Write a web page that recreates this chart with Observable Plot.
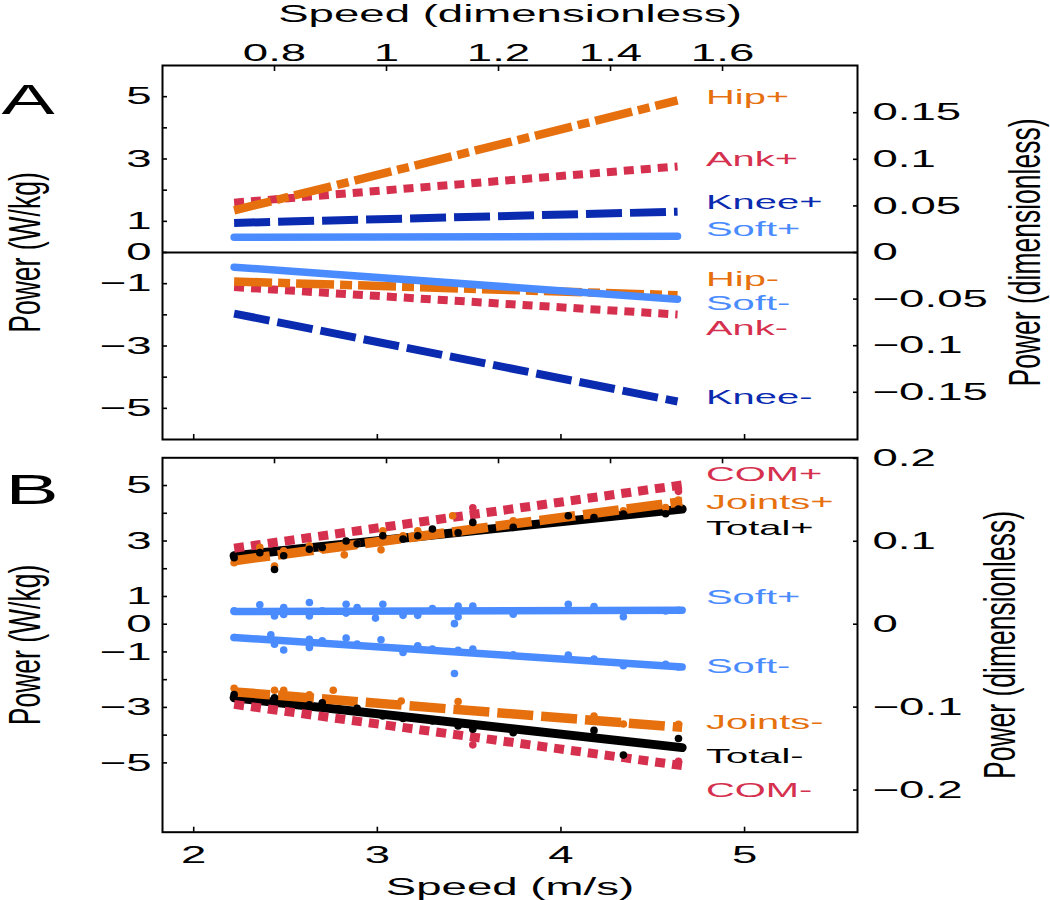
<!DOCTYPE html>
<html>
<head>
<meta charset="utf-8">
<script src="https://cdn.jsdelivr.net/npm/d3@7"></script>
<script src="https://cdn.jsdelivr.net/npm/@observablehq/plot@0.6"></script>
<style>
  html, body { margin: 0; padding: 0; background: #fff; }
  #chart { width: 1050px; }
  #chart svg { display: block; }
</style>
</head>
<body>
<div id="chart"></div>
<script>
// ---------- scales / ticks ----------
const speedScale = 3.05;   // m/s per unit of dimensionless speed
const powerScale = 29.9;   // W/kg per unit of dimensionless power
const xDomain = [1.83, 5.615];
const speedTicks = [2, 3, 4, 5];
const dimSpeedTicks = [0.8, 1, 1.2, 1.4, 1.6];
const powerTicks = [-5, -4, -3, -2, -1, 0, 1, 2, 3, 4, 5];
const powerTickLabels = [-5, -3, -1, 0, 1, 3, 5];
const dimPowerTicksA = [-0.15, -0.1, -0.05, 0, 0.05, 0.1, 0.15];
const dimPowerTicksB = [-0.2, -0.1, 0, 0.1, 0.2];

// ---------- panel A: fitted lines ----------
const fitSpeedsA = [2.22, 4.635];
const seriesA = ["Ank+", "Hip+", "Knee+", "Soft+", "Ank-", "Hip-", "Knee-", "Soft-"];
const startA = [1.6, 1.35, 0.95, 0.49, -1.11, -0.93, -1.96, -0.47];
const endA = [2.76, 4.88, 1.31, 0.52, -1.99, -1.37, -4.78, -1.5];
const labelYA = [3.0, 4.98, 1.6, 0.73, -2.44, -0.87, -4.66, -1.62];

// ---------- panel B: fitted lines ----------
const fitSpeedsB = [2.22, 4.66];
const seriesB = ["Total+", "Joints+", "COM+", "Soft+", "Total-", "Joints-", "COM-", "Soft-"];
const startB = [2.47, 2.29, 2.74, 0.46, -2.65, -2.44, -2.89, -0.48];
const endB = [4.15, 4.42, 5.02, 0.5, -4.45, -3.72, -5.1, -1.54];
const labelYB = [3.47, 4.39, 5.42, 0.96, -4.75, -3.52, -5.98, -1.5];

// ---------- panel B: individual trials [speed m/s, power W/kg] ----------
const softPlusDots = [[2.22,0.48],[2.36,0.7],[2.44,0.3],[2.49,0.6],[2.49,0.35],[2.63,0.78],[2.63,0.3],[2.70,0.48],[2.83,0.72],[2.83,0.4],[2.89,0.6],[3.03,0.72],[2.99,0.22],[3.14,0.32],[3.22,0.32],[3.30,0.56],[3.44,0.65],[3.44,0.27],[3.42,0.02],[3.52,0.65],[3.74,0.36],[4.04,0.72],[4.18,0.64],[4.34,0.27],[4.57,0.48],[4.64,0.5]];
const softMinusDots = [[2.22,-0.48],[2.42,-0.38],[2.44,-0.72],[2.49,-0.93],[2.63,-0.54],[2.63,-0.84],[2.70,-0.6],[2.83,-0.5],[2.89,-0.72],[3.02,-0.56],[3.14,-1.02],[3.22,-0.78],[3.30,-0.9],[3.44,-0.94],[3.42,-1.78],[3.52,-0.9],[3.74,-1.1],[4.04,-1.11],[4.18,-1.26],[4.34,-1.5],[4.57,-1.45],[4.64,-1.54]];
const jointsPlusDots = [[2.22,2.22],[2.36,2.77],[2.44,2.1],[2.49,2.65],[2.63,2.83],[2.70,2.7],[2.82,2.5],[2.83,2.95],[2.89,2.9],[3.03,3.37],[3.02,2.68],[3.14,3.19],[3.22,3.37],[3.30,3.3],[3.41,3.91],[3.52,3.55],[3.74,3.73],[4.04,3.85],[4.18,3.88],[4.34,4.09],[4.57,4.21],[4.64,4.48]];
const totalPlusDots = [[2.22,2.4],[2.36,2.58],[2.44,1.97],[2.49,2.47],[2.63,2.7],[2.70,2.77],[2.83,3.0],[2.89,2.9],[3.03,3.19],[3.14,3.07],[3.22,3.19],[3.30,3.43],[3.44,3.3],[3.52,3.67],[3.74,3.49],[4.04,3.91],[4.18,3.85],[4.34,3.97],[4.57,3.98],[4.64,4.15]];
const jointsMinusDots = [[2.22,-2.31],[2.44,-2.38],[2.49,-2.38],[2.63,-2.55],[2.76,-2.38],[3.03,-2.89],[3.13,-2.77],[3.44,-2.79],[3.74,-3.25],[4.04,-3.37],[4.18,-3.31],[4.34,-3.6],[4.64,-3.61]];
const totalMinusDots = [[2.22,-2.54],[2.44,-2.65],[2.63,-2.91],[2.70,-2.83],[2.89,-3.03],[3.03,-3.31],[3.14,-3.4],[3.30,-3.49],[3.44,-3.67],[3.52,-3.79],[3.74,-3.91],[4.18,-3.83],[4.34,-4.72],[4.64,-4.12]];
const comDots = [[4.64,4.79],[3.52,4.2],[3.52,-4.35],[4.64,-4.94]];

// ---------- styles ----------
const ORANGE = "#e6700e", CRIMSON = "#d6304f", NAVY = "#0a2bb0", SKY = "#4a8cff";
const FONT = "'Liberation Sans', Arial, Helvetica, sans-serif";
const styles = {
  Hip:    {stroke: ORANGE,  dash: "38,6,12,6", width: 8.5},
  Ank:    {stroke: CRIMSON, dash: "10,7",      width: 8},
  Knee:   {stroke: NAVY,    dash: "36,8",      width: 8},
  Soft:   {stroke: SKY,     dash: null,        width: 7.5},
  Joints: {stroke: ORANGE,  dash: "36,8",      width: 9.5},
  COM:    {stroke: CRIMSON, dash: "10,7",      width: 9},
  Total:  {stroke: "black", dash: null,        width: 9}
};
const baseName = (s) => s.replace(/[+-]$/, "");
const minus = (v) => (v < 0 ? "\u2212" + Math.abs(v) : String(v));
const fmtSpeedDim = (v) => String(+(v / speedScale).toFixed(1));
const fmtPowerDim = (v) => minus(+(v / powerScale).toFixed(2));

function fitMarks(series, starts, ends, speeds) {
  return series.map((name, i) => {
    const st = styles[baseName(name)];
    const rows = [{v: speeds[0], p: starts[i]}, {v: speeds[1], p: ends[i]}];
    return Plot.line(rows, {
      x: "v", y: "p", stroke: st.stroke, strokeWidth: st.width,
      strokeDasharray: st.dash || undefined, strokeLinecap: st.dash ? "butt" : "round"
    });
  });
}
function labelMarks(series, labelY) {
  return series.map((name, i) => Plot.text([name], {
    x: () => 4.79, y: () => labelY[i], text: (d) => d, fill: styles[baseName(name)].stroke,
    textAnchor: "start", fontSize: 21
  }));
}
function frameAxes(dimPowerTicks) {
  const tick = {tickSize: -5, fill: "none", strokeWidth: 1.6, label: null};
  return [
    Plot.axisY(powerTicks, {anchor: "left", ...tick}),
    Plot.axisY(powerTickLabels, {anchor: "left", tickSize: 0, tickPadding: 11, tickFormat: minus, label: null}),
    Plot.axisY(dimPowerTicks.map((d) => d * powerScale), {anchor: "right", ...tick}),
    Plot.axisY(dimPowerTicks.map((d) => d * powerScale), {anchor: "right", tickSize: 0, tickPadding: 15, tickFormat: fmtPowerDim, label: null}),
    Plot.axisX(dimSpeedTicks.map((d) => d * speedScale), {anchor: "top", ...tick}),
    Plot.axisX(speedTicks, {anchor: "bottom", ...tick})
  ];
}
function stretchText(svg, sx, sxRot) {
  svg.querySelectorAll("text").forEach((el) => {
    const t = el.getAttribute("transform");
    const s = t && t.includes("rotate") ? sxRot : sx;
    if (t && /^translate\(/.test(t)) {
      el.setAttribute("transform", t.replace(/^(translate\([^)]*\))/, `$1 scale(${s},1)`));
    } else {
      const x = parseFloat(el.getAttribute("x")) || 0, y = parseFloat(el.getAttribute("y")) || 0;
      el.setAttribute("transform", `translate(${x},${y}) scale(${s},1) translate(${-x},${-y})` + (t ? " " + t : ""));
    }
  });
}

const common = {
  width: 1050, height: 450, marginLeft: 162, marginRight: 193,
  style: {fontFamily: FONT, fontSize: "24px", color: "black", background: "white", overflow: "visible"}
};
const rotLabel = {rotate: -90, textAnchor: "middle", lineAnchor: "middle", text: (d) => d, fontSize: 26.5};
const dotOpts = {x: (d) => d[0], y: (d) => d[1], r: 3.8};

// ---------- Panel A ----------
const plotA = Plot.plot({
  ...common,
  marginTop: 65, marginBottom: 11,
  x: {domain: xDomain},
  y: {domain: [-6, 6]},
  marks: [
    Plot.ruleY([0], {stroke: "black", strokeWidth: 2}),
    ...fitMarks(seriesA, startA, endA, fitSpeedsA),
    ...labelMarks(seriesA, labelYA),
    ...frameAxes(dimPowerTicksA),
    Plot.axisX(dimSpeedTicks.map((d) => d * speedScale), {anchor: "top", tickSize: 0, tickPadding: 5, tickFormat: fmtSpeedDim, label: null}),
    Plot.text(["Speed (dimensionless)"], {frameAnchor: "top", dy: -44, lineAnchor: "bottom", text: (d) => d, fontSize: 24}),
    Plot.text(["Power (W/kg)"], {frameAnchor: "left", dx: -137, ...rotLabel}),
    Plot.text(["Power (dimensionless)"], {frameAnchor: "right", dx: 168, ...rotLabel}),
    Plot.text(["A"], {frameAnchor: "top-left", dx: -161, dy: 48, lineAnchor: "bottom", textAnchor: "start", text: (d) => d, fontSize: 42}),
    Plot.frame({stroke: "black", strokeWidth: 2})
  ]
});

// ---------- Panel B ----------
const plotB = Plot.plot({
  ...common,
  marginTop: 7.3, marginBottom: 68.3,
  x: {domain: xDomain},
  y: {domain: [-7.5, 6]},
  marks: [
    ...fitMarks(seriesB, startB, endB, fitSpeedsB),
    Plot.dot(softPlusDots, {...dotOpts, fill: SKY}),
    Plot.dot(softMinusDots, {...dotOpts, fill: SKY}),
    Plot.dot(comDots, {...dotOpts, fill: CRIMSON}),
    Plot.dot(jointsPlusDots, {...dotOpts, fill: ORANGE}),
    Plot.dot(jointsMinusDots, {...dotOpts, fill: ORANGE}),
    Plot.dot(totalPlusDots, {...dotOpts, fill: "black"}),
    Plot.dot(totalMinusDots, {...dotOpts, fill: "black"}),
    ...labelMarks(seriesB, labelYB),
    ...frameAxes(dimPowerTicksB),
    Plot.axisX(speedTicks, {anchor: "bottom", tickSize: 0, tickPadding: 14, tickFormat: (d) => String(d), label: null}),
    Plot.text(["Speed (m/s)"], {frameAnchor: "bottom", dy: 63, lineAnchor: "bottom", text: (d) => d, fontSize: 24}),
    Plot.text(["Power (W/kg)"], {frameAnchor: "left", dx: -137, ...rotLabel}),
    Plot.text(["Power (dimensionless)"], {frameAnchor: "right", dx: 143, ...rotLabel}),
    Plot.text(["B"], {frameAnchor: "top-left", dx: -157, dy: 46, lineAnchor: "bottom", textAnchor: "start", text: (d) => d, fontSize: 42}),
    Plot.frame({stroke: "black", strokeWidth: 2})
  ]
});

stretchText(plotA, 1.9, 1.65);
stretchText(plotB, 1.9, 1.65);
document.getElementById("chart").append(plotA, plotB);
</script>
</body>
</html>
